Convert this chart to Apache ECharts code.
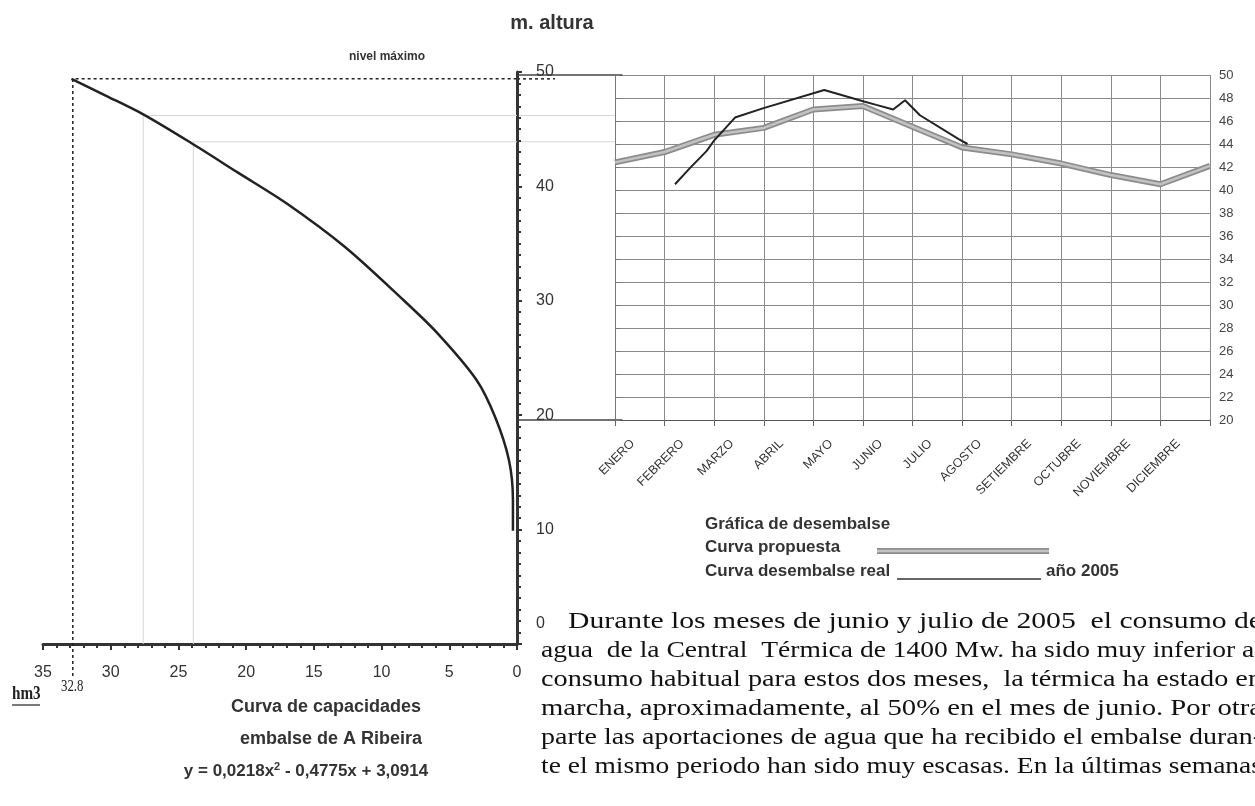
<!DOCTYPE html>
<html><head><meta charset="utf-8">
<script src="https://cdn.jsdelivr.net/npm/echarts@6/dist/echarts.min.js"></script>
<style>html,body{margin:0;padding:0;background:#fff}#c{width:1255px;height:806px}</style>
</head><body><div id="c"></div>
<script>
// ---- data ----
const capVolume = [32.9, 30.3, 27.6, 24.2, 20.6, 17.0, 12.7, 8.6, 5.9, 3.0, 1.6, 0.6, 0.3, 0.3];
const capHeight = [49.4, 47.9, 46.3, 43.9, 41.2, 38.5, 34.7, 30.3, 27.2, 23.1, 19.8, 16.1, 12.6, 9.9];
const maxVolume = 32.8;
const maxLevel = 49.4;
const refVolumes = [27.6, 23.9];
const refLevels = [46.2, 43.9];
const volTicks = [0, 35, 5];
const altTicks = [0, 50, 10];

const months = ['ENERO','FEBRERO','MARZO','ABRIL','MAYO','JUNIO','JULIO','AGOSTO','SETIEMBRE','OCTUBRE','NOVIEMBRE','DICIEMBRE'];
const proposedX = [0,1,2,3,4,5,6,7,8,9,10,11,12];
const proposed = [42.4, 43.3, 44.8, 45.4, 47.0, 47.3, 45.5, 43.7, 43.1, 42.3, 41.3, 40.5, 42.1];
const realX = [1.21, 1.51, 1.85, 1.98, 2.42, 2.98, 4.22, 5.02, 5.27, 5.61, 5.85, 6.15, 6.94, 7.11];
const real = [40.5, 41.9, 43.4, 44.2, 46.3, 47.1, 48.7, 47.7, 47.4, 47.0, 47.8, 46.5, 44.4, 44.0];
const levelTicks = [20, 50, 2];

const paragraph = [
  'Durante los meses de junio y julio de 2005  el consumo de',
  'agua  de la Central  Térmica de 1400 Mw. ha sido muy inferior al',
  'consumo habitual para estos dos meses,  la térmica ha estado en',
  'marcha, aproximadamente, al 50% en el mes de junio. Por otra',
  'parte las aportaciones de agua que ha recibido el embalse duran-',
  'te el mismo periodo han sido muy escasas. En la últimas semanas'
];

// ---- build ----
const SANS = 'Liberation Sans, Arial, sans-serif';
const SERIF = 'Liberation Serif, Times New Roman, serif';
const zip = (a, b) => a.map((v, i) => [v, b[i]]);

const chart = echarts.init(document.getElementById('c'), null, {renderer: 'canvas'});

const option = {
  animation: false,
  backgroundColor: '#fff',
  grid: [
    {left: 43, right: 738, top: 72, bottom: 162},
    {left: 615, right: 45, top: 75, bottom: 386}
  ],
  xAxis: [
    {gridIndex: 0, type: 'value', inverse: true, min: volTicks[0], max: volTicks[1], interval: volTicks[2],
     axisLine: {show: true, lineStyle: {color: '#333', width: 3}},
     axisTick: {show: true, length: 6, lineStyle: {color: '#333', width: 2}},
     minorTick: {show: true, splitNumber: 5, length: 4, lineStyle: {color: '#333', width: 2}},
     axisLabel: {fontSize: 16, color: '#333', margin: 21, fontFamily: SANS},
     splitLine: {show: false}},
    {gridIndex: 1, type: 'value', position: 'bottom', min: 0, max: months.length, interval: 1,
     axisLine: {show: true, lineStyle: {color: '#555', width: 1.2}},
     axisTick: {show: true, length: 6, lineStyle: {color: '#666'}},
     axisLabel: {show: false},
     splitLine: {show: true, lineStyle: {color: '#8a8a8a', width: 1}}},
    // month labels on the same positions (category axis, labels only)
    {gridIndex: 1, type: 'category', position: 'bottom', boundaryGap: false, data: months.concat(['']),
     axisLine: {show: false}, axisTick: {show: false}, splitLine: {show: false},
     axisLabel: {interval: 0, rotate: 45, fontSize: 12.5, color: '#333', margin: 4, fontFamily: SANS,
       verticalAlign: 'top', lineHeight: 50}}
  ],
  yAxis: [
    {gridIndex: 0, type: 'value', position: 'right', min: altTicks[0], max: altTicks[1], interval: altTicks[2],
     axisLine: {show: true, lineStyle: {color: '#333', width: 3}},
     axisTick: {show: true, length: 5, lineStyle: {color: '#333', width: 2}},
     minorTick: {show: true, splitNumber: 10, length: 4, lineStyle: {color: '#333', width: 2}},
     axisLabel: {fontSize: 16, color: '#333', margin: 19, fontFamily: SANS, showMinLabel: true,
       formatter: v => v === 0 ? '{z|0}' : String(v),
       rich: {z: {fontSize: 16, color: '#333', fontFamily: SANS, padding: [0, 0, 40, 0]}}},
     splitLine: {show: false}},
    {gridIndex: 1, type: 'value', position: 'right', min: levelTicks[0], max: levelTicks[1], interval: levelTicks[2],
     axisLine: {show: true, lineStyle: {color: '#777', width: 1}},
     axisTick: {show: true, length: 5, lineStyle: {color: '#777'}},
     axisLabel: {fontSize: 13, color: '#444', margin: 9, fontFamily: SANS},
     splitLine: {show: true, lineStyle: {color: '#8a8a8a', width: 1}}}
  ],
  series: [
    ...refVolumes.map((v, i) => ({type: 'line', xAxisIndex: 0, yAxisIndex: 0, showSymbol: false, silent: true,
      data: [[v, 0], [v, refLevels[i]], [0, refLevels[i]]], lineStyle: {color: '#d6d6d6', width: 1}})),
    {type: 'line', xAxisIndex: 0, yAxisIndex: 0, clip: false, showSymbol: false, silent: true,
     data: [[maxVolume, -2.8], [maxVolume, maxLevel], [0, maxLevel]],
     lineStyle: {color: '#222', width: 1.5, type: [3, 3]}},
    {type: 'line', xAxisIndex: 0, yAxisIndex: 0, smooth: 0.3, showSymbol: false,
     data: zip(capVolume, capHeight), lineStyle: {color: '#222', width: 2.5}},
    {type: 'line', xAxisIndex: 1, yAxisIndex: 1, showSymbol: false, data: zip(proposedX, proposed),
     lineStyle: {color: '#8c8c8c', width: 6}},
    {type: 'line', xAxisIndex: 1, yAxisIndex: 1, showSymbol: false, data: zip(proposedX, proposed),
     lineStyle: {color: '#c2c2c2', width: 2.5}},
    {type: 'line', xAxisIndex: 1, yAxisIndex: 1, showSymbol: false, data: zip(realX, real),
     lineStyle: {color: '#222', width: 2}}
  ]
};
chart.setOption(option);

// ---- decorations positioned through the chart's own scales ----
const pL = (v, h) => chart.convertToPixel({xAxisIndex: 0, yAxisIndex: 0}, [v, h]);
const pR = (m, l) => chart.convertToPixel({xAxisIndex: 1, yAxisIndex: 1}, [m, l]);
const xPerVol = pL(1, 0)[0] - pL(0, 0)[0];
const leftAxisX = pL(0, 0)[0];
const rightEdgeX = pR(0, levelTicks[0])[0];

const graphic = [];
function txt(text, x, y, o, extra) {
  graphic.push(Object.assign({type: 'text', x: x, y: y, silent: true, style: Object.assign({
    text: text, fill: '#333', font: 'bold 15px ' + SANS, textAlign: 'left', textVerticalAlign: 'middle'
  }, o || {})}, extra || {}));
}
function seg(x1, y1, x2, y2, style) {
  graphic.push({type: 'line', silent: true, shape: {x1: x1, y1: y1, x2: x2, y2: y2}, style: style});
}
refLevels.forEach(l => { const y = pL(0, l)[1]; seg(leftAxisX, y, rightEdgeX, y, {stroke: '#d6d6d6', lineWidth: 1}); });
{ const y = pL(0, maxLevel)[1]; seg(leftAxisX, y, leftAxisX - 2.8 * xPerVol, y, {stroke: '#222', lineWidth: 1.5, lineDash: [3, 3]}); }
[levelTicks[1], levelTicks[0]].forEach(l => { const y = pR(0, l)[1]; seg(leftAxisX, y, pR(0.15, l)[0], y, {stroke: '#444', lineWidth: 1.5}); });

txt('m. altura', 552, 23, {font: 'bold 20px ' + SANS, textAlign: 'center'});
txt('nivel máximo', 387, 57, {font: 'bold 12px ' + SANS, textAlign: 'center'});
txt('hm3', 12, 694, {font: 'bold 19px ' + SERIF, fill: '#222'}, {scaleX: 0.8});
seg(12, 705, 40, 705, {stroke: '#222', lineWidth: 1.2});
txt('32.8', 61, 687, {font: '16px ' + SERIF, fill: '#222'}, {scaleX: 0.8});
txt('Curva de capacidades', 326, 707, {textAlign: 'center', font: 'bold 18px ' + SANS});
txt('embalse de A Ribeira', 331, 739, {textAlign: 'center', font: 'bold 18px ' + SANS});
graphic.push({type: 'text', x: 306, y: 771, silent: true, style: {
  text: 'y = 0,0218x{s|2} - 0,4775x + 3,0914', rich: {s: {fontSize: 11, fontWeight: 'bold', fontFamily: SANS, fill: '#333', padding: [0, 0, 9, 0]}},
  font: 'bold 17px ' + SANS, fill: '#333', textAlign: 'center', textVerticalAlign: 'middle'}});
txt('Gráfica de desembalse', 705, 524, {font: 'bold 17px ' + SANS});
txt('Curva propuesta', 705, 547, {font: 'bold 17px ' + SANS});
txt('Curva desembalse real', 705, 571, {font: 'bold 17px ' + SANS});
txt('año 2005', 1046, 571, {font: 'bold 17px ' + SANS});
seg(897, 579, 1041, 579, {stroke: '#333', lineWidth: 1.3});
seg(877, 551, 1049, 551, {stroke: '#8c8c8c', lineWidth: 6});
seg(877, 551, 1049, 551, {stroke: '#c2c2c2', lineWidth: 2.5});

const ctx = document.createElement('canvas').getContext('2d');
const PFONT = '24px ' + SERIF;
ctx.font = PFONT;
const rightEdge = 1262;
paragraph.forEach((line, i) => {
  const x0 = i === 0 ? 568 : 541;
  const w = ctx.measureText(line).width;
  txt(line, x0, 622 + i * 29, {font: PFONT, fill: '#111'}, {scaleX: (rightEdge - x0) / w});
});

chart.setOption({graphic: graphic});
</script></body></html>
